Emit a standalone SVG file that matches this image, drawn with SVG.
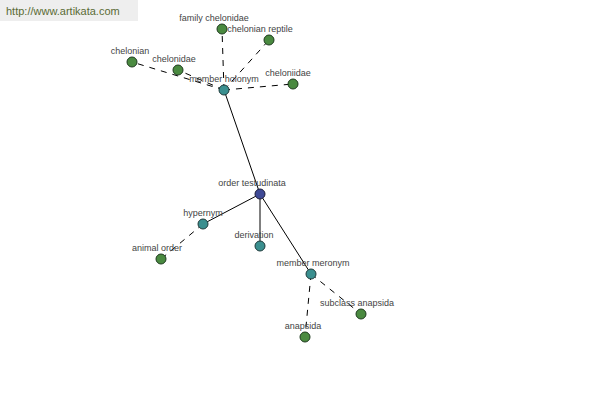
<svg xmlns="http://www.w3.org/2000/svg" width="600" height="400" viewBox="0 0 600 400">
<style>
text{font-family:"Liberation Sans",Arial,sans-serif;font-size:9px;fill:#444;text-anchor:middle}
.solid{stroke:#000;stroke-width:1;fill:none}
.dash{stroke:#000;stroke-width:1;fill:none;stroke-dasharray:6,6}
.leaf{fill:#4a8a40;stroke:#1e3a1e;stroke-width:1}
.mid{fill:#3a8f8f;stroke:#1e3a3a;stroke-width:1}
.root{fill:#3f4a96;stroke:#1e1e3a;stroke-width:1}
</style>
<rect x="0" y="0" width="138" height="21" fill="#eeeeee"/>
<text x="6" y="15" style="font-size:11px;fill:#5a6b35;text-anchor:start">http://www.artikata.com</text>
<g id="connectors">
<line class="solid" x1="260" y1="194" x2="224" y2="90"/>
<line class="solid" x1="260" y1="194" x2="203" y2="224"/>
<line class="solid" x1="260" y1="194" x2="260" y2="246"/>
<line class="solid" x1="260" y1="194" x2="311" y2="274"/>
<line class="dash" x1="224" y1="90" x2="222" y2="29"/>
<line class="dash" x1="224" y1="90" x2="269" y2="40"/>
<line class="dash" x1="224" y1="90" x2="132" y2="62"/>
<line class="dash" x1="224" y1="90" x2="178" y2="70"/>
<line class="dash" x1="224" y1="90" x2="293" y2="84"/>
<line class="dash" x1="203" y1="224" x2="161" y2="259"/>
<line class="dash" x1="311" y1="274" x2="305" y2="337"/>
<line class="dash" x1="311" y1="274" x2="361" y2="314"/>
</g>
<g id="family-chelonidae"><circle class="leaf" cx="222" cy="29" r="5"/><text x="214" y="21">family chelonidae</text></g>
<g id="chelonian-reptile"><circle class="leaf" cx="269" cy="40" r="5"/><text x="260" y="32">chelonian reptile</text></g>
<g id="chelonian"><circle class="leaf" cx="132" cy="62" r="5"/><text x="130" y="54">chelonian</text></g>
<g id="chelonidae"><circle class="leaf" cx="178" cy="70" r="5"/><text x="174" y="62">chelonidae</text></g>
<g id="cheloniidae"><circle class="leaf" cx="293" cy="84" r="5"/><text x="288" y="76">cheloniidae</text></g>
<g id="member-holonym"><circle class="mid" cx="224" cy="90" r="5"/><text x="224" y="82">member holonym</text></g>
<g id="order-testudinata"><circle class="root" cx="260" cy="194" r="5"/><text x="252" y="186">order testudinata</text></g>
<g id="hypernym"><circle class="mid" cx="203" cy="224" r="5"/><text x="203" y="216">hypernym</text></g>
<g id="animal-order"><circle class="leaf" cx="161" cy="259" r="5"/><text x="157" y="251">animal order</text></g>
<g id="derivation"><circle class="mid" cx="260" cy="246" r="5"/><text x="254" y="238">derivation</text></g>
<g id="member-meronym"><circle class="mid" cx="311" cy="274" r="5"/><text x="313" y="266">member meronym</text></g>
<g id="subclass-anapsida"><circle class="leaf" cx="361" cy="314" r="5"/><text x="357" y="306">subclass anapsida</text></g>
<g id="anapsida"><circle class="leaf" cx="305" cy="337" r="5"/><text x="303" y="329">anapsida</text></g>
</svg>
